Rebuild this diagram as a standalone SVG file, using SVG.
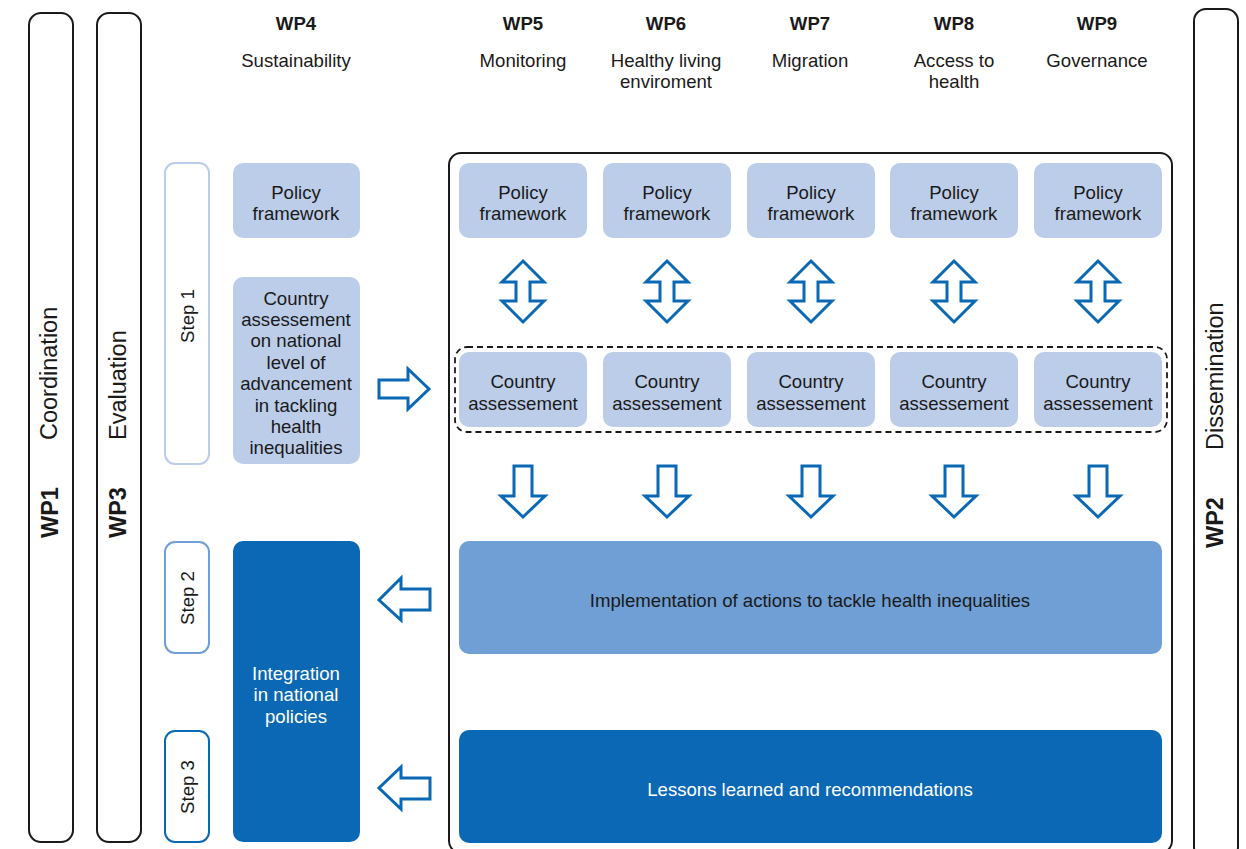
<svg xmlns="http://www.w3.org/2000/svg" width="1246" height="849" viewBox="0 0 1246 849">
<style>
text{font-family:"Liberation Sans",Arial,sans-serif;font-size:18.6px;fill:#1a1a1a;text-anchor:middle}
.b{font-weight:bold}
.w{fill:#ffffff}
.v{font-size:23.5px;text-anchor:start}
.bar{fill:#fff;stroke:#1a1a1a;stroke-width:2}
.lb{fill:#bccde9}
.arr{fill:#fff;stroke:#0a68b4;stroke-width:3;stroke-linejoin:miter}
</style>
<rect width="1246" height="849" fill="#fff"/>
<g id="wp1"><rect class="bar" x="29" y="13" width="44" height="829" rx="12"/>
<text class="v" transform="translate(57,440) rotate(-90)">Coordination</text>
<text class="v b" transform="translate(58,538) rotate(-90)">WP1</text></g>
<g id="wp3"><rect class="bar" x="97" y="13" width="44" height="829" rx="12"/>
<text class="v" transform="translate(126,440) rotate(-90)">Evaluation</text>
<text class="v b" transform="translate(126,538) rotate(-90)">WP3</text></g>
<g id="wp2"><rect class="bar" x="1194" y="9" width="44" height="850" rx="12"/>
<text class="v" transform="translate(1223,450) rotate(-90)">Dissemination</text>
<text class="v b" transform="translate(1223,548) rotate(-90)">WP2</text></g>
<g id="headers">
<text class="b" x="296" y="30">WP4</text><text x="296" y="67">Sustainability</text>
<text class="b" x="523" y="30">WP5</text><text x="523" y="67">Monitoring</text>
<text class="b" x="666" y="30">WP6</text><text x="666" y="67">Healthy living</text><text x="666" y="88">enviroment</text>
<text class="b" x="810" y="30">WP7</text><text x="810" y="67">Migration</text>
<text class="b" x="954" y="30">WP8</text><text x="954" y="67">Access to</text><text x="954" y="88">health</text>
<text class="b" x="1097" y="30">WP9</text><text x="1097" y="67">Governance</text>
</g>
<g id="main-frame"><rect x="449" y="153" width="723" height="700" rx="12" fill="none" stroke="#1a1a1a" stroke-width="2"/>
<rect x="455" y="347" width="712" height="85" rx="12" fill="none" stroke="#1a1a1a" stroke-width="1.8" stroke-dasharray="6,4"/></g>
<g id="step1"><rect x="165" y="163" width="44" height="301" rx="10" fill="#fff" stroke="#bccde9" stroke-width="2"/>
<text transform="translate(194,316) rotate(-90)">Step 1</text></g>
<g id="step2"><rect x="165" y="542" width="44" height="111" rx="10" fill="#fff" stroke="#6f9fd5" stroke-width="2"/>
<text transform="translate(194,598) rotate(-90)">Step 2</text></g>
<g id="step3"><rect x="165" y="731" width="44" height="111" rx="10" fill="#fff" stroke="#0a68b4" stroke-width="2"/>
<text transform="translate(194,787) rotate(-90)">Step 3</text></g>
<g id="wp4-policy"><rect class="lb" x="233" y="163" width="127" height="75" rx="10"/><text x="296" y="199">Policy</text><text x="296" y="220">framework</text></g>
<g id="wp4-country"><rect class="lb" x="233" y="277" width="127" height="187" rx="10"/>
<text x="296" y="305">Country</text><text x="296" y="326">assessement</text><text x="296" y="347">on national</text><text x="296" y="369">level of</text><text x="296" y="390">advancement</text><text x="296" y="412">in tackling</text><text x="296" y="433">health</text><text x="296" y="454">inequalities</text></g>
<g id="wp4-integration"><rect x="233" y="541" width="127" height="301" rx="10" fill="#0a68b4"/>
<text class="w" x="296" y="680">Integration</text><text class="w" x="296" y="701">in national</text><text class="w" x="296" y="723">policies</text></g>
<g id="wp5-policy"><rect class="lb" x="459" y="163" width="128" height="75" rx="10"/><text x="523" y="199">Policy</text><text x="523" y="220">framework</text></g>
<g id="wp6-policy"><rect class="lb" x="603" y="163" width="128" height="75" rx="10"/><text x="667" y="199">Policy</text><text x="667" y="220">framework</text></g>
<g id="wp7-policy"><rect class="lb" x="747" y="163" width="128" height="75" rx="10"/><text x="811" y="199">Policy</text><text x="811" y="220">framework</text></g>
<g id="wp8-policy"><rect class="lb" x="890" y="163" width="128" height="75" rx="10"/><text x="954" y="199">Policy</text><text x="954" y="220">framework</text></g>
<g id="wp9-policy"><rect class="lb" x="1034" y="163" width="128" height="75" rx="10"/><text x="1098" y="199">Policy</text><text x="1098" y="220">framework</text></g>
<g id="wp5-country"><rect class="lb" x="459" y="352" width="128" height="75" rx="10"/><text x="523" y="388">Country</text><text x="523" y="410">assessement</text></g>
<g id="wp6-country"><rect class="lb" x="603" y="352" width="128" height="75" rx="10"/><text x="667" y="388">Country</text><text x="667" y="410">assessement</text></g>
<g id="wp7-country"><rect class="lb" x="747" y="352" width="128" height="75" rx="10"/><text x="811" y="388">Country</text><text x="811" y="410">assessement</text></g>
<g id="wp8-country"><rect class="lb" x="890" y="352" width="128" height="75" rx="10"/><text x="954" y="388">Country</text><text x="954" y="410">assessement</text></g>
<g id="wp9-country"><rect class="lb" x="1034" y="352" width="128" height="75" rx="10"/><text x="1098" y="388">Country</text><text x="1098" y="410">assessement</text></g>
<g id="implementation"><rect x="459" y="541" width="703" height="113" rx="10" fill="#6f9fd5"/><text x="810" y="607">Implementation of actions to tackle health inequalities</text></g>
<g id="lessons"><rect x="459" y="730" width="703" height="113" rx="10" fill="#0a68b4"/><text class="w" x="810" y="796">Lessons learned and recommendations</text></g>
<g id="connectors">
<polygon class="arr" points="523,261 544,282 530,282 530,301 544,301 523,322 502,301 516,301 516,282 502,282"/>
<polygon class="arr" points="667,261 688,282 674,282 674,301 688,301 667,322 646,301 660,301 660,282 646,282"/>
<polygon class="arr" points="811,261 832,282 818,282 818,301 832,301 811,322 790,301 804,301 804,282 790,282"/>
<polygon class="arr" points="954,261 975,282 961,282 961,301 975,301 954,322 933,301 947,301 947,282 933,282"/>
<polygon class="arr" points="1098,261 1119,282 1105,282 1105,301 1119,301 1098,322 1077,301 1091,301 1091,282 1077,282"/>
<polygon class="arr" points="514,466 532,466 532,496 545,496 523,517 501,496 514,496"/>
<polygon class="arr" points="658,466 676,466 676,496 689,496 667,517 645,496 658,496"/>
<polygon class="arr" points="802,466 820,466 820,496 833,496 811,517 789,496 802,496"/>
<polygon class="arr" points="945,466 963,466 963,496 976,496 954,517 932,496 945,496"/>
<polygon class="arr" points="1089,466 1107,466 1107,496 1120,496 1098,517 1076,496 1089,496"/>
<polygon class="arr" points="379,380 408,380 408,369 429,389 408,409 408,398 379,398"/>
<polygon class="arr" points="430,589 401,589 401,578 379,600 401,620 401,610 430,610"/>
<polygon class="arr" points="430,778 401,778 401,767 379,788 401,809 401,799 430,799"/>
</g>
</svg>
